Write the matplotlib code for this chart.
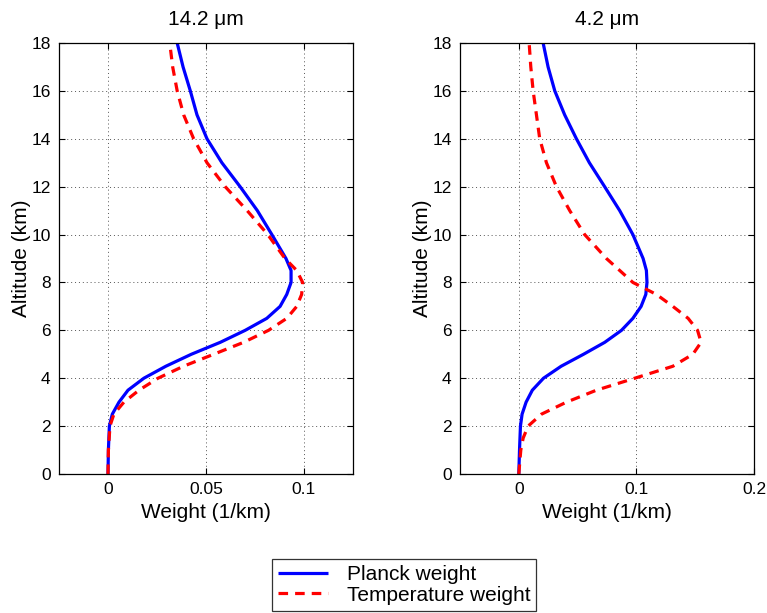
import matplotlib
matplotlib.use('Agg')
import matplotlib.pyplot as plt

plt.rcParams['font.family'] = ['Liberation Sans', 'DejaVu Sans']

# 14.2 um  (altitude km, weight 1/km)
alt_p14 = [0, 1, 2, 2.5, 3, 3.5, 4, 4.5, 5, 5.5, 6, 6.5, 7, 7.5, 8, 8.5, 9, 10, 11, 12, 13, 14, 15, 16, 17, 18]
planck_14 = [0.0, 0.0002, 0.0007, 0.0022, 0.0056, 0.0102, 0.0183, 0.0295, 0.0425, 0.0573, 0.070, 0.081,
             0.0878, 0.0912, 0.0934, 0.0934, 0.0908, 0.0836, 0.0762, 0.0674, 0.0581, 0.0505, 0.0454,
             0.042, 0.0383, 0.0353]
alt_t14 = [0, 1, 2, 2.5, 3, 3.5, 4, 4.5, 5, 5.5, 6, 6.5, 7, 7.5, 8, 8.5, 9, 10, 11, 12, 13, 14, 15, 16, 17, 18]
temp_14 = [0.0, 0.0002, 0.001, 0.003, 0.0081, 0.0158, 0.0255, 0.0385, 0.0539, 0.0692, 0.0819, 0.0912,
           0.0963, 0.0988, 0.0993, 0.0963, 0.0903, 0.0815, 0.0710, 0.0598, 0.0505, 0.0437, 0.0386,
           0.0353, 0.033, 0.0315]

# 4.2 um
alt_p4 = [0, 1, 2, 2.5, 3, 3.5, 4, 4.5, 5, 5.5, 6, 6.5, 7, 7.5, 8, 8.5, 9, 10, 11, 12, 13, 14, 15, 16, 17, 18]
planck_4 = [0.0, 0.0006, 0.0014, 0.0028, 0.0062, 0.0115, 0.021, 0.036, 0.055, 0.0731, 0.0873, 0.097,
            0.104, 0.108, 0.109, 0.1085, 0.1057, 0.097, 0.0858, 0.073, 0.060, 0.049, 0.039, 0.0306, 0.0249, 0.0207]
alt_t4 = [0, 1, 1.5, 2, 2.5, 3, 3.5, 4, 4.5, 5, 5.5, 6, 6.5, 7, 7.5, 8, 8.5, 9, 10, 11, 12, 13, 14, 15, 16, 17, 18]
temp_4 = [0.0, 0.0017, 0.0037, 0.0079, 0.0193, 0.0405, 0.066, 0.0986, 0.131, 0.148, 0.155, 0.152, 0.144,
          0.131, 0.117, 0.097, 0.0858, 0.0745, 0.056, 0.0433, 0.032, 0.0235, 0.0178, 0.015, 0.0122, 0.0102, 0.0088]

panels = [
    ('14.2 μm', planck_14, alt_p14, temp_14, alt_t14, (-0.025, 0.125), [0, 0.05, 0.1], ['0', '0.05', '0.1']),
    ('4.2 μm', planck_4, alt_p4, temp_4, alt_t4, (-0.05, 0.2), [0, 0.1, 0.2], ['0', '0.1', '0.2']),
]

W, H = 767, 613
fig = plt.figure(figsize=(W / 100, H / 100), dpi=100)
boxes = [(59, 43, 294, 431), (460, 43, 294, 431)]

for (title, p, pa, t, ta, xl, xt, xtl), (x0, y0, w, h) in zip(panels, boxes):
    ax = fig.add_axes([x0 / W, 1 - (y0 + h) / H, w / W, h / H])
    lp, = ax.plot(p, pa, color='#0000ff', lw=2.3, solid_capstyle='butt', solid_joinstyle='round')
    lt, = ax.plot(t, ta, color='#ff0000', lw=2.3, ls=(0, (3, 2.2)))
    ax.set_xlim(*xl)
    ax.set_ylim(0, 18)
    ax.set_xticks(xt)
    ax.set_xticklabels(xtl)
    ax.set_yticks(range(0, 19, 2))
    ax.grid(True, color='#555555', ls=(0, (1, 3)), lw=0.7)
    ax.tick_params(direction='in', top=True, right=True, labelsize=12.5, length=4, width=0.8, pad=6)
    for s in ax.spines.values():
        s.set_linewidth(0.9)
    ax.set_title(title, fontsize=15, pad=13)
    ax.set_xlabel('Weight (1/km)', fontsize=15, labelpad=4)
    ax.set_ylabel('Altitude (km)', fontsize=15, labelpad=0.5)

leg = fig.legend([lp, lt], ['Planck weight', 'Temperature weight'], loc='center',
                 bbox_to_anchor=(404 / W, 1 - 585 / H), fontsize=15, frameon=True,
                 fancybox=False, edgecolor='black', handlelength=2.4, borderpad=0.3,
                 labelspacing=0.05, handletextpad=0.9)
leg.get_frame().set_linewidth(0.9)

fig.savefig('out.png', dpi=100)
